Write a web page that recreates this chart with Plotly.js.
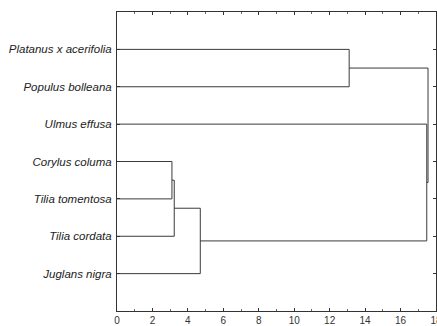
<!DOCTYPE html>
<html><head><meta charset="utf-8">
<script src="https://cdn.plot.ly/plotly-3.0.1.min.js"></script>
<style>html,body{margin:0;padding:0;background:#fff}#chart{width:437px;height:326px}</style>
</head><body><div id="chart"></div>
<script>
// Leaves, top to bottom
const leaves = ["Platanus x acerifolia","Populus bolleana","Ulmus effusa","Corylus columa","Tilia tomentosa","Tilia cordata","Juglans nigra"];
// Linkage: [clusterA, clusterB, linkage distance]; new clusters numbered from leaves.length
const mergeA = [3, 7, 8, 0, 2, 10];
const mergeB = [4, 5, 6, 1, 9, 11];
const mergeDist = [3.1, 3.23, 4.7, 13.1, 17.48, 17.55];
const xTicks = [0,2,4,6,8,10,12,14,16,18];

// compute node positions
const nodeY = leaves.map((_, i) => i);
const nodeX = leaves.map(() => 0);
const xs = [], ys = [];
for (let k = 0; k < mergeDist.length; k++) {
  const a = mergeA[k], b = mergeB[k], d = mergeDist[k];
  xs.push(nodeX[a], d, d, nodeX[b], null);
  ys.push(nodeY[a], nodeY[a], nodeY[b], nodeY[b], null);
  nodeY.push((nodeY[a] + nodeY[b]) / 2);
  nodeX.push(d);
}
const traces = [{x: xs, y: ys, mode: 'lines', type: 'scatter', line: {color: '#3a3a3a', width: 1}, hoverinfo: 'skip', showlegend: false}];

const layout = {
  width: 437, height: 326,
  margin: {l: 117, r: 1, t: 12, b: 15},
  paper_bgcolor: '#fff', plot_bgcolor: '#fff',
  font: {family: 'Liberation Sans, Arial, sans-serif', color: '#222'},
  xaxis: {range: [0, 18], tickvals: xTicks, ticktext: xTicks.map(String), showgrid: false, zeroline: false,
    showline: true, linecolor: '#333', linewidth: 1, mirror: 'allticks', ticks: 'inside', ticklen: 3, tickcolor: '#333',
    minor: {dtick: 1, ticks: 'inside', ticklen: 2, tickcolor: '#666'},
    ticklabeloverflow: 'allow', ticklabelstandoff: 0,
    tickfont: {size: 10, color: '#333'}},
  yaxis: {range: [7, -1], tickvals: leaves.map((_, i) => i), ticktext: leaves, showgrid: false, zeroline: false,
    showline: true, linecolor: '#333', linewidth: 1, mirror: 'allticks', ticks: 'inside', ticklen: 3, tickcolor: '#333',
    tickfont: {size: 11.5, color: '#222', style: 'italic'}, ticklabelstandoff: 2}
};
Plotly.newPlot('chart', traces, layout, {displayModeBar: false, staticPlot: true});
</script></body></html>
